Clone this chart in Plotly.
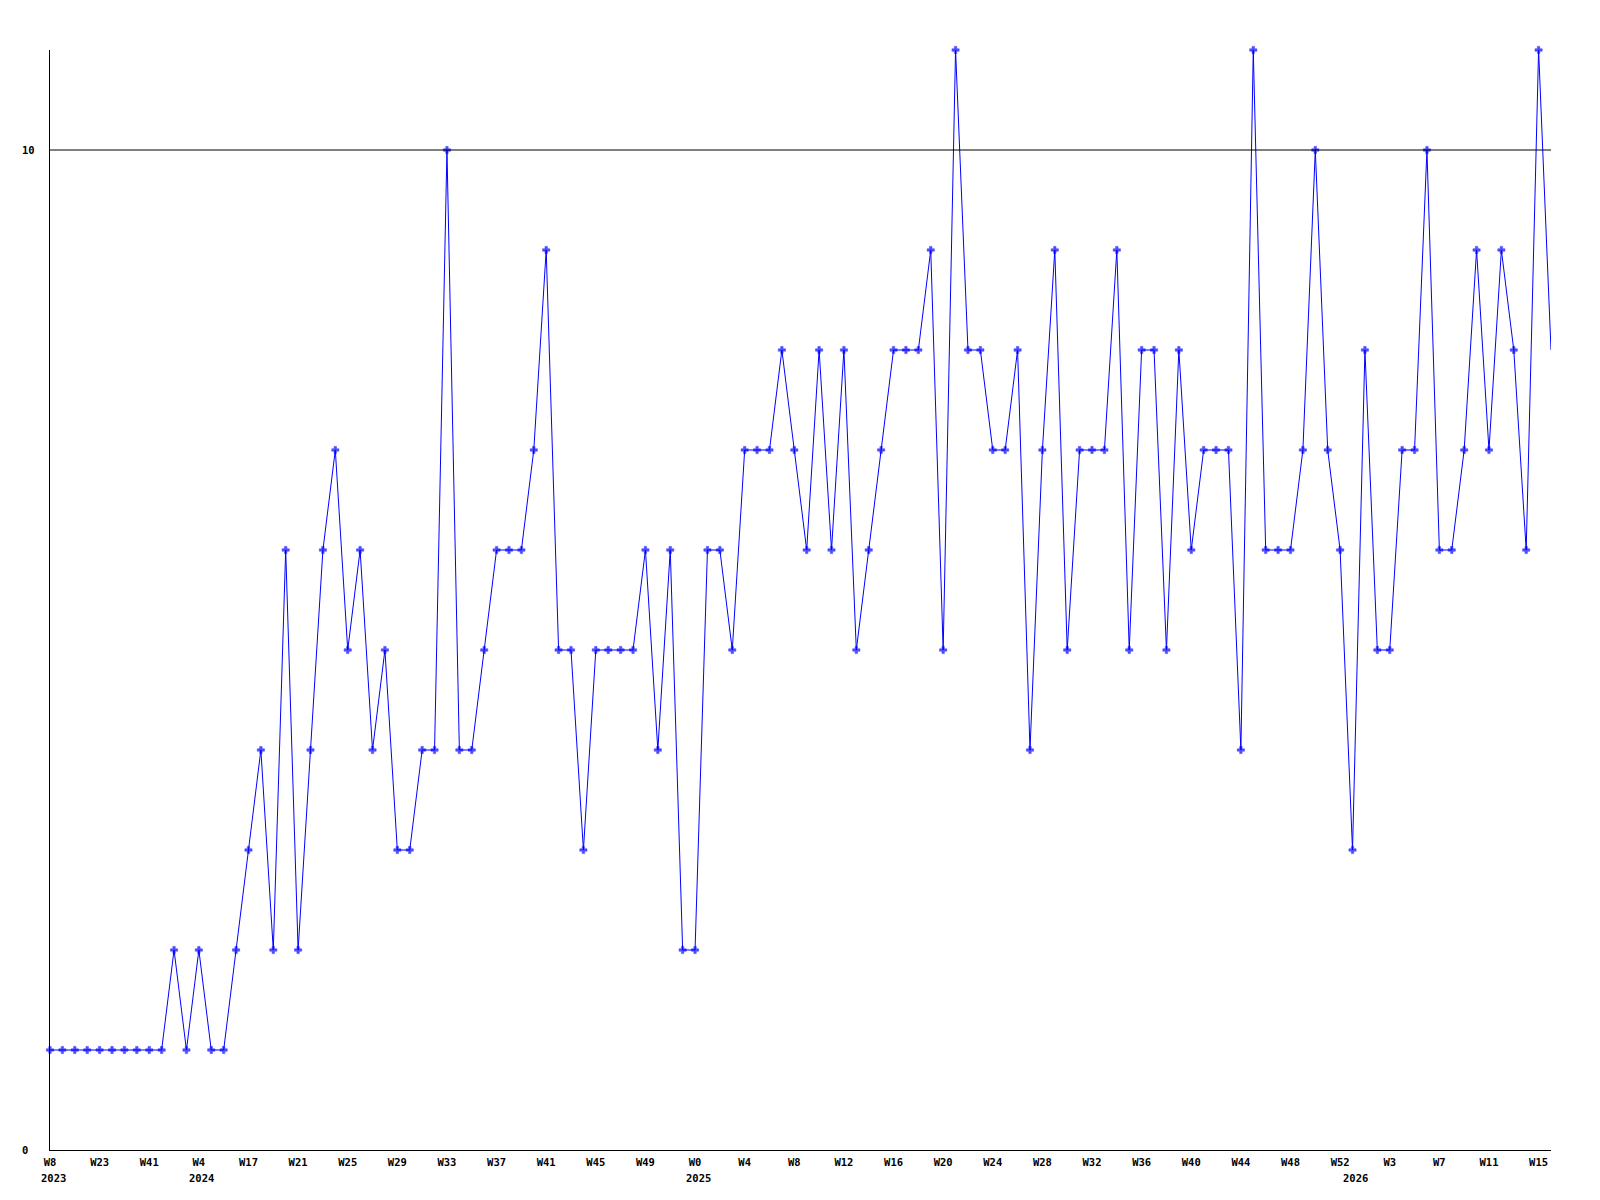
import plotly.graph_objects as go

# Values per period (one point per week)
values = [1, 1, 1, 1, 1, 1, 1, 1, 1, 1,
          2, 1, 2, 1, 1, 2, 3, 4, 2, 6,
          2, 4, 6, 7, 5, 6, 4, 5, 3, 3,
          4, 4, 10, 4, 4, 5, 6, 6, 6, 7,
          9, 5, 5, 3, 5, 5, 5, 5, 6, 4,
          6, 2, 2, 6, 6, 5, 7, 7, 7, 8,
          7, 6, 8, 6, 8, 5, 6, 7, 8, 8,
          8, 9, 5, 11, 8, 8, 7, 7, 8, 4,
          7, 9, 5, 7, 7, 7, 9, 5, 8, 8,
          5, 8, 6, 7, 7, 7, 4, 11, 6, 6,
          6, 7, 10, 7, 6, 3, 8, 5, 5, 7,
          7, 10, 6, 6, 7, 9, 7, 9, 8, 6,
          11, 8]

# Tick labels, one every 4 points
week_labels = ["W8", "W23", "W41", "W4", "W17", "W21", "W25", "W29", "W33", "W37",
               "W41", "W45", "W49", "W0", "W4", "W8", "W12", "W16", "W20", "W24",
               "W28", "W32", "W36", "W40", "W44", "W48", "W52", "W3", "W7", "W11", "W15"]
# Year labels and the point index they sit under
year_labels = ["2023", "2024", "2025", "2026"]
year_index = [0, 12, 52, 105]

y_tick_labels = ["0", "10"]
y_tick_values = [0, 10]

x = list(range(len(values)))
tick_step = 4
tickvals = [i * tick_step for i in range(len(week_labels))]

# page body has an 8px margin, compensate
W, H = 1584, 1184
L, R, T, B = 42, 41, 42, 42
plot_w = W - L - R

font = dict(family="DejaVu Sans Mono", size=10.5, color="black")

marker_sizes = [6] * (len(values) - 1) + [0]

fig = go.Figure()
fig.add_trace(go.Scatter(
    x=x, y=values, mode="lines+markers",
    line=dict(color="#0000FF", width=1),
    marker=dict(symbol="cross", size=marker_sizes, color="#0000FF",
                line=dict(width=0.6, color="#0000FF")),
    cliponaxis=False,
    hoverinfo="x+y", showlegend=False,
))

fig.update_layout(
    width=W, height=H,
    margin=dict(l=L, r=R, t=T, b=B, pad=0),
    paper_bgcolor="white", plot_bgcolor="white",
    xaxis=dict(range=[0, len(values) - 1], showgrid=False, zeroline=False,
               showline=True, linecolor="black", linewidth=1,
               tickvals=tickvals, ticktext=["<b>" + t + "</b>" for t in week_labels],
               ticks="", tickfont=font, ticklabelstandoff=2),
    yaxis=dict(range=[0, 11], showgrid=False, zeroline=False,
               showline=True, linecolor="black", linewidth=1,
               showticklabels=False, ticks=""),
)

# Horizontal reference line at 10
fig.add_shape(type="line", xref="paper", yref="y", x0=0, x1=1, y0=10, y1=10,
              line=dict(color="black", width=1))

# Y labels (left-aligned)
for lab, v in zip(y_tick_labels, y_tick_values):
    fig.add_annotation(xref="paper", yref="y", x=-30 / plot_w, y=v,
                       text="<b>" + lab + "</b>", showarrow=False,
                       xanchor="left", yanchor="middle", font=font)

# Year labels under the week labels
for lab, idx in zip(year_labels, year_index):
    fig.add_annotation(xref="x", yref="paper", x=idx, y=0, yshift=-28, xshift=3,
                       text="<b>" + lab + "</b>", showarrow=False,
                       xanchor="center", yanchor="middle", font=font)

fig.write_html("out.html")
